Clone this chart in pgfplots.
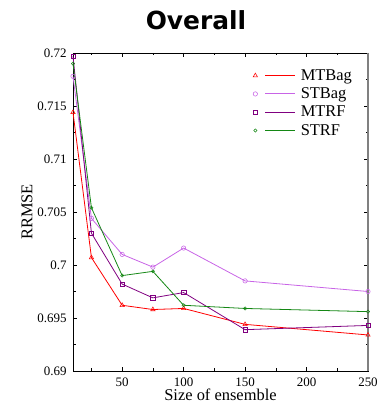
\documentclass[border=0pt]{standalone}
\usepackage{pgfplots}
\pgfplotsset{compat=1.18}
\usepackage{fontspec}
\setmainfont{Liberation Serif}
\newfontfamily\titlefont{DejaVu Sans}
\definecolor{cMTBag}{RGB}{255,0,0}
\definecolor{cSTBag}{RGB}{200,100,230}
\definecolor{cMTRF}{RGB}{128,0,128}
\definecolor{cSTRF}{RGB}{20,135,20}
\begin{document}
\begin{tikzpicture}[x=1bp,y=1bp]
\useasboundingbox (0,0) rectangle (379bp,419bp);
\begin{axis}[
  at={(73bp,48bp)}, anchor=south west,
  scale only axis, width=295bp, height=318bp,
  xmin=10, xmax=250, ymin=0.69, ymax=0.72,
  xtick={50,100,150,200,250},
  minor xtick={25,75,125,175,225},
  ytick={0.69,0.695,0.7,0.705,0.71,0.715,0.72},
  minor y tick num=1,
  tick align=inside,
  major tick length=4bp, minor tick length=2.5bp,
  tick style={black, line width=0.6pt},
  xtick pos=both, ytick pos=both,
  /pgf/number format/assume math mode=true,
  yticklabel style={/pgf/number format/fixed, /pgf/number format/precision=3, font=\fontsize{13}{13}\selectfont, xshift=-3bp},
  xticklabel style={font=\fontsize{13}{13}\selectfont, yshift=-3bp},
  scaled y ticks=false,
  xlabel={Size of ensemble}, ylabel={RRMSE},
  label style={font=\fontsize{16.5}{16.5}\selectfont},
  xlabel style={yshift=4bp},
  ylabel style={yshift=-2bp},
  axis line style={black, line width=0.7pt},
  legend style={draw=none, fill=none, at={(0.61,0.955)}, anchor=north west,
    font=\fontsize{16.5}{16.5}\selectfont, row sep=2bp, inner sep=0pt,
    /tikz/column sep=3bp},
  legend cell align=left,
  every axis plot/.append style={line width=0.8pt},
  clip=false,
]
\addplot[forget plot, cMTBag, mark=triangle, mark size=2.5pt, mark options={solid, fill=white, line width=0.55pt}] coordinates {
(10,0.7144) (25,0.7007) (50,0.6962) (75,0.6958) (100,0.6959) (150,0.6944) (250,0.6934)};
\addplot[forget plot, cSTBag, mark=o, mark size=2.2pt, mark options={solid, fill=white, line width=0.55pt}] coordinates {
(10,0.7178) (25,0.7044) (50,0.7010) (75,0.6998) (100,0.7016) (150,0.6985) (250,0.6975)};
\addplot[forget plot, cMTRF, mark=square, mark size=2.2pt, mark options={solid, fill=white, line width=0.55pt}] coordinates {
(10,0.7197) (25,0.7030) (50,0.6982) (75,0.6969) (100,0.6974) (150,0.6939) (250,0.6943)};
\addplot[forget plot, cSTRF, mark=o, mark size=1.6pt, mark options={solid, fill=white, line width=0.55pt}] coordinates {
(10,0.7190) (25,0.7054) (50,0.6990) (75,0.6994) (100,0.6962) (150,0.6959) (250,0.6956)};
\addlegendimage{legend image code/.code={%
    \draw[draw=cMTBag, line width=0.55pt, fill=white] plot[mark=triangle, mark size=2.5pt] coordinates {(0bp,0bp)};
    \draw[draw=cMTBag, line width=0.9pt] (10bp,0bp) -- (40bp,0bp);}}
\addlegendentry{MTBag}
\addlegendimage{legend image code/.code={%
    \draw[draw=cSTBag, line width=0.55pt, fill=white] plot[mark=o, mark size=2.2pt] coordinates {(0bp,0bp)};
    \draw[draw=cSTBag, line width=0.9pt] (10bp,0bp) -- (40bp,0bp);}}
\addlegendentry{STBag}
\addlegendimage{legend image code/.code={%
    \draw[draw=cMTRF, line width=0.55pt, fill=white] plot[mark=square, mark size=2.2pt] coordinates {(0bp,0bp)};
    \draw[draw=cMTRF, line width=0.9pt] (10bp,0bp) -- (40bp,0bp);}}
\addlegendentry{MTRF}
\addlegendimage{legend image code/.code={%
    \draw[draw=cSTRF, line width=0.55pt, fill=white] plot[mark=o, mark size=1.6pt] coordinates {(0bp,0bp)};
    \draw[draw=cSTRF, line width=0.9pt] (10bp,0bp) -- (40bp,0bp);}}
\addlegendentry{STRF}
\draw[gray, line width=1.8pt] (rel axis cs:1,0) -- (rel axis cs:1,1);
\node[font=\titlefont\bfseries\fontsize{25}{25}\selectfont, anchor=base] at (rel axis cs:0.417,1.075) {Overall};
\end{axis}
\end{tikzpicture}
\end{document}
